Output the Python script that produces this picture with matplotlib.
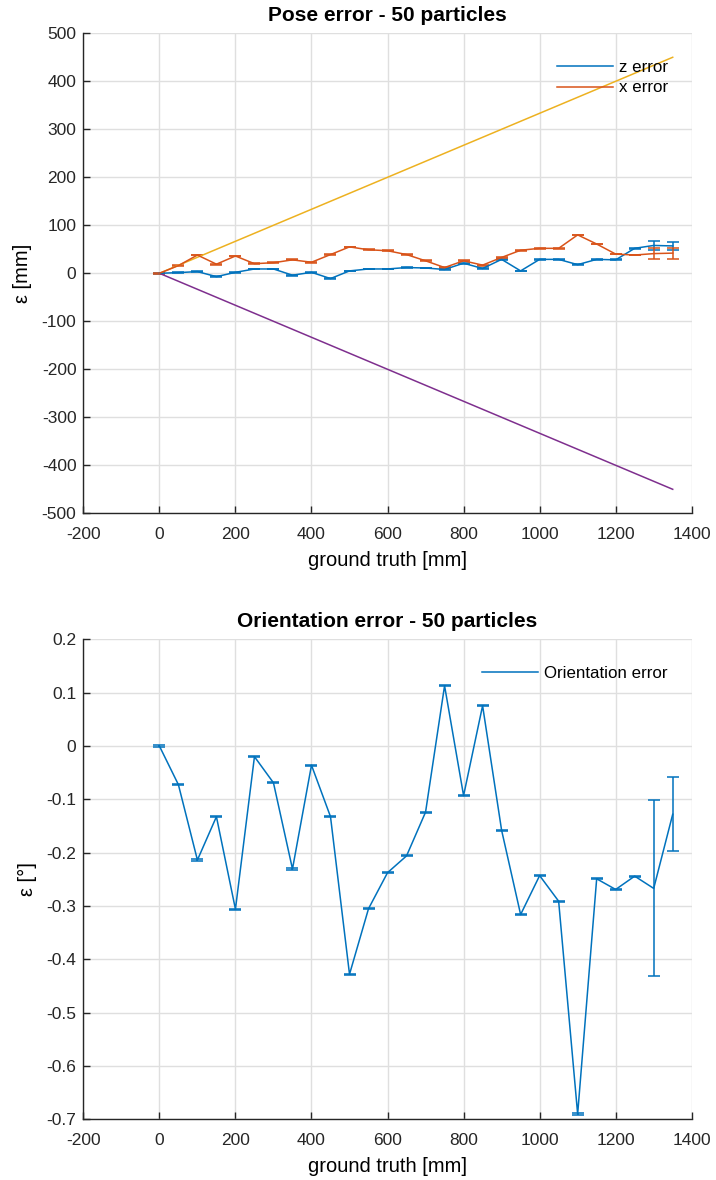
import numpy as np
import matplotlib.pyplot as plt
from matplotlib.lines import Line2D

plt.rcParams['font.family'] = ['Liberation Sans', 'DejaVu Sans']
plt.rcParams['axes.unicode_minus'] = False

# ground truth positions [mm]
gt = [0, 50, 100, 150, 200, 250, 300, 350, 400, 450, 500, 550, 600, 650,
      700, 750, 800, 850, 900, 950, 1000, 1050, 1100, 1150, 1200, 1250, 1300, 1350]

# mean position errors [mm]
z_err = [0, 1.4, 3.5, -7, 2, 9, 9, -4, 2, -11, 5, 9, 9, 12,
         11, 8, 21, 10, 29, 5, 29, 29, 18, 29, 28, 52, 58, 57]
x_err = [0, 16, 38, 19, 36, 20, 22, 28, 23, 39, 55, 49, 47, 39,
         26, 12, 26, 17, 33, 48, 52, 52, 80, 61, 40, 38, 41, 42]
z_std = [0.8] * 26 + [8.6, 9.0]
x_std = [0.8] * 26 + [11.0, 11.5]

# tolerance bounds (±1/3 of the travelled distance)
bound_x = [0, 1350]
bound_hi = [0, 450]
bound_lo = [0, -450]

# orientation error [deg]
ori_err = [0, -0.0725, -0.2138, -0.1325, -0.306, -0.02, -0.069, -0.2306, -0.036, -0.1325,
           -0.428, -0.305, -0.2375, -0.206, -0.124, 0.113, -0.093, 0.0756, -0.158, -0.316,
           -0.243, -0.291, -0.69, -0.249, -0.269, -0.244, -0.267, -0.128]
ori_std = [0.001] * 26 + [0.165, 0.069]

c_blue = '#0072BD'
c_orange = '#D95319'
c_yellow = '#EDB120'
c_purple = '#7E2F8E'
c_axis = '#262626'

fig = plt.figure(figsize=(7.16, 11.8), dpi=100)
ax1 = fig.add_axes([0.1164, 0.565, 0.8497, 0.4068])
ax2 = fig.add_axes([0.1164, 0.0514, 0.8497, 0.4068])


def style_axes(ax):
    ax.grid(True, color='#dfdfdf', linewidth=1.0)
    ax.set_axisbelow(True)
    for s in ['top', 'right']:
        ax.spines[s].set_visible(False)
    for s in ['left', 'bottom']:
        ax.spines[s].set_color(c_axis)
        ax.spines[s].set_linewidth(1.0)
    ax.tick_params(direction='in', length=5, width=1.0, colors=c_axis,
                   labelsize=12.5, labelcolor='#262626')
    ax.tick_params(axis='x', pad=10)
    ax.tick_params(axis='y', pad=5)
    ax.set_xlim(-200, 1400)
    ax.set_xticks(np.arange(-200, 1401, 200))


# --- position error
style_axes(ax1)
ax1.errorbar(gt, z_err, yerr=z_std, color=c_blue, lw=1.1, capsize=4.3, capthick=1.1)
ax1.errorbar(gt, x_err, yerr=x_std, color=c_orange, lw=1.1, capsize=4.3, capthick=1.1)
ax1.plot(bound_x, bound_hi, color=c_yellow, lw=1.1)
ax1.plot(bound_x, bound_lo, color=c_purple, lw=1.1)
ax1.set_ylim(-500, 500)
ax1.set_yticks(np.arange(-500, 501, 100))
ax1.set_title('Pose error - 50 particles', fontsize=15, fontweight='bold', pad=9)
ax1.set_xlabel('ground truth [mm]', fontsize=14.5, labelpad=6)
ax1.set_ylabel('ε [mm]', fontsize=14.5, labelpad=7)
h1 = [Line2D([], [], color=c_blue, lw=1.1), Line2D([], [], color=c_orange, lw=1.1)]
ax1.legend(h1, ['z error', 'x error'], loc='upper left', bbox_to_anchor=(0.754, 0.976),
           frameon=False, fontsize=12.2, handlelength=3.3, handletextpad=0.35,
           labelspacing=0.32)

# --- orientation error
style_axes(ax2)
ax2.errorbar(gt, ori_err, yerr=ori_std, color=c_blue, lw=1.1, capsize=4.3, capthick=1.1)
ax2.set_ylim(-0.7, 0.2)
ax2.set_yticks(np.round(np.arange(-0.7, 0.21, 0.1), 1))
ax2.set_yticklabels(['-0.7', '-0.6', '-0.5', '-0.4', '-0.3', '-0.2', '-0.1', '0', '0.1', '0.2'])
ax2.set_title('Orientation error - 50 particles', fontsize=15, fontweight='bold', pad=9)
ax2.set_xlabel('ground truth [mm]', fontsize=14.5, labelpad=6)
ax2.set_ylabel('ε [°]', fontsize=14.5, labelpad=7)
h2 = [Line2D([], [], color=c_blue, lw=1.1)]
ax2.legend(h2, ['Orientation error'], loc='upper left', bbox_to_anchor=(0.631, 0.976),
           frameon=False, fontsize=12.2, handlelength=3.3, handletextpad=0.35)

plt.savefig('out.png', dpi=100)
